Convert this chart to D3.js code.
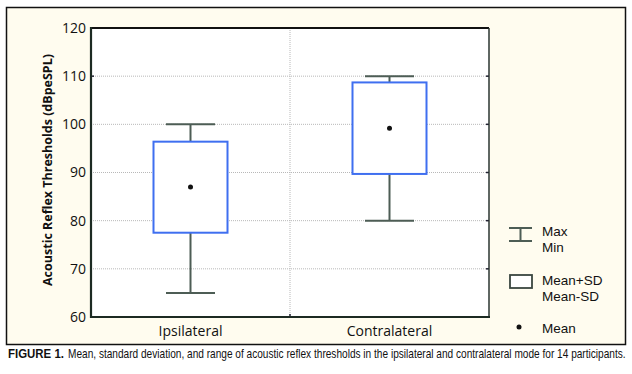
<!DOCTYPE html>
<html><head><meta charset="utf-8">
<script src="https://cdn.jsdelivr.net/npm/d3@7"></script>
<style>body{margin:0;background:#fff}svg{display:block}</style>
</head><body><svg id="c" width="632" height="374"></svg>
<script>
const categories = ["Ipsilateral", "Contralateral"];
const maxVals = [100, 110];
const minVals = [65, 80];
const meanVals = [87, 99.2];
const upperSD = [96.4, 108.7];
const lowerSD = [77.5, 89.7];
const yTicks = [60, 70, 80, 90, 100, 110, 120];
const legendItems = [["Max", "Min"], ["Mean+SD", "Mean-SD"], ["Mean"]];

const svg = d3.select("#c");
const font = "'Open Sans', 'DejaVu Sans', sans-serif";
// frame
svg.append("rect").attr("x", 6.5).attr("y", 7.5).attr("width", 619).attr("height", 337)
  .attr("fill", "#fffcef").attr("stroke", "#111").attr("stroke-width", 1.5);

const L = 91, T = 28, R = 489, B = 317;
const y = d3.scaleLinear().domain([60, 120]).range([B, T]);
const x = d3.scaleBand().domain(categories).range([L, R]);
svg.append("rect").attr("x", L).attr("y", T).attr("width", R - L).attr("height", B - T).attr("fill", "#fff");

// grid
const g = svg.append("g");
g.selectAll("line.h").data(yTicks.filter(v => v > 60 && v < 120)).join("line")
  .attr("x1", L).attr("x2", R).attr("y1", d => y(d)).attr("y2", d => y(d))
  .attr("stroke", "#b8b8b8").attr("stroke-width", 1).attr("stroke-dasharray", "1,1");
g.append("line").attr("x1", x(categories[1])).attr("x2", x(categories[1])).attr("y1", T).attr("y2", B)
  .attr("stroke", "#b8b8b8").attr("stroke-width", 1).attr("stroke-dasharray", "1,1");

// axes
const yAxis = d3.axisLeft(y).tickValues(yTicks).tickSize(0).tickPadding(5);
const ya = svg.append("g").attr("transform", `translate(${L},0)`).call(yAxis);
ya.select(".domain").remove();
ya.selectAll("text").attr("font-family", font).attr("font-size", 14).attr("fill", "#111");
const xAxis = d3.axisBottom(x).tickSize(0).tickPadding(9);
const xa = svg.append("g").attr("transform", `translate(0,${B})`).call(xAxis);
xa.select(".domain").remove();
xa.selectAll("text").attr("font-family", font).attr("font-size", 14).attr("fill", "#111");

// right axis ticks
svg.append("g").selectAll("line").data(yTicks.filter(v => v > 60 && v < 120)).join("line")
  .attr("x1", R - 3).attr("x2", R).attr("y1", d => y(d)).attr("y2", d => y(d)).attr("stroke", "#223").attr("stroke-width", 1.5);
svg.append("line").attr("x1", L).attr("x2", L + 3).attr("y1", y(110)).attr("y2", y(110)).attr("stroke", "#223").attr("stroke-width", 1.5);
svg.append("line").attr("x1", x(categories[1])).attr("x2", x(categories[1])).attr("y1", B - 3).attr("y2", B).attr("stroke", "#223").attr("stroke-width", 1.5);

// frame lines of plot
svg.append("line").attr("x1", L).attr("x2", R).attr("y1", T).attr("y2", T).attr("stroke", "#111").attr("stroke-width", 2);
svg.append("line").attr("x1", R).attr("x2", R).attr("y1", T).attr("y2", B).attr("stroke", "#2a3530").attr("stroke-width", 1.5);
svg.append("line").attr("x1", L).attr("x2", L).attr("y1", T - 1).attr("y2", B + 1).attr("stroke", "#1c2a22").attr("stroke-width", 2.2);
svg.append("line").attr("x1", L - 1).attr("x2", R + 1).attr("y1", B).attr("y2", B).attr("stroke", "#1c2a22").attr("stroke-width", 2.2);

// boxes
const whiskCol = "#4d5d55", boxCol = "#3f6ff0";
const boxW = 74, capW = 49;
categories.forEach((c, i) => {
  const cx = x(c) + x.bandwidth() / 2;
  const gg = svg.append("g");
  gg.append("line").attr("x1", cx).attr("x2", cx).attr("y1", y(maxVals[i])).attr("y2", y(upperSD[i])).attr("stroke", whiskCol).attr("stroke-width", 2);
  gg.append("line").attr("x1", cx).attr("x2", cx).attr("y1", y(lowerSD[i])).attr("y2", y(minVals[i])).attr("stroke", whiskCol).attr("stroke-width", 2);
  gg.append("line").attr("x1", cx - capW / 2).attr("x2", cx + capW / 2).attr("y1", y(maxVals[i])).attr("y2", y(maxVals[i])).attr("stroke", whiskCol).attr("stroke-width", 2);
  gg.append("line").attr("x1", cx - capW / 2).attr("x2", cx + capW / 2).attr("y1", y(minVals[i])).attr("y2", y(minVals[i])).attr("stroke", whiskCol).attr("stroke-width", 2);
  gg.append("rect").attr("x", cx - boxW / 2).attr("y", y(upperSD[i])).attr("width", boxW).attr("height", y(lowerSD[i]) - y(upperSD[i]))
    .attr("fill", "#fff").attr("stroke", boxCol).attr("stroke-width", 2);
  gg.append("circle").attr("cx", cx).attr("cy", y(meanVals[i])).attr("r", 2.5).attr("fill", "#111");
});

// y label
svg.append("text").attr("transform", `translate(52,170) rotate(-90)`).attr("text-anchor", "middle")
  .attr("font-family", font).attr("font-weight", "bold").attr("font-size", 12.5).attr("fill", "#111")
  .text("Acoustic Reflex Thresholds (dBpeSPL)");

// legend
const lg = svg.append("g").attr("font-family", "'Liberation Sans', Arial, sans-serif").attr("font-size", 13.5).attr("fill", "#111");
lg.append("line").attr("x1", 509).attr("x2", 532).attr("y1", 228).attr("y2", 228).attr("stroke", whiskCol).attr("stroke-width", 2);
lg.append("line").attr("x1", 509).attr("x2", 532).attr("y1", 241).attr("y2", 241).attr("stroke", whiskCol).attr("stroke-width", 2);
lg.append("line").attr("x1", 520.5).attr("x2", 520.5).attr("y1", 228).attr("y2", 241).attr("stroke", whiskCol).attr("stroke-width", 2);
lg.append("text").attr("x", 542).attr("y", 236).text(legendItems[0][0]);
lg.append("text").attr("x", 542).attr("y", 251.5).text(legendItems[0][1]);
lg.append("rect").attr("x", 510).attr("y", 275).attr("width", 22).attr("height", 13).attr("fill", "#fff").attr("stroke", "#3a4640").attr("stroke-width", 1.8);
lg.append("text").attr("x", 542).attr("y", 285).text(legendItems[1][0]);
lg.append("text").attr("x", 542).attr("y", 300.5).text(legendItems[1][1]);
lg.append("circle").attr("cx", 519).attr("cy", 327).attr("r", 2.5).attr("fill", "#111");
lg.append("text").attr("x", 542).attr("y", 333).text(legendItems[2][0]);

// caption (horizontally condensed to fit, as in the reference)
const capFont = "'Liberation Sans Narrow', 'Liberation Sans', sans-serif";
function fitText(x0, width, size, weight, str) {
  const t = svg.append("text").attr("font-family", capFont).attr("font-size", size)
    .attr("font-weight", weight).attr("fill", "#111").text(str);
  const len = t.node().getComputedTextLength();
  t.attr("transform", `translate(${x0},358) scale(${width / len},1)`);
}
fitText(8, 56, 13, "bold", "FIGURE 1.");
fitText(68, 558, 12.5, "normal", "Mean, standard deviation, and range of acoustic reflex thresholds in the ipsilateral and contralateral mode for 14 participants.");
</script></body></html>
